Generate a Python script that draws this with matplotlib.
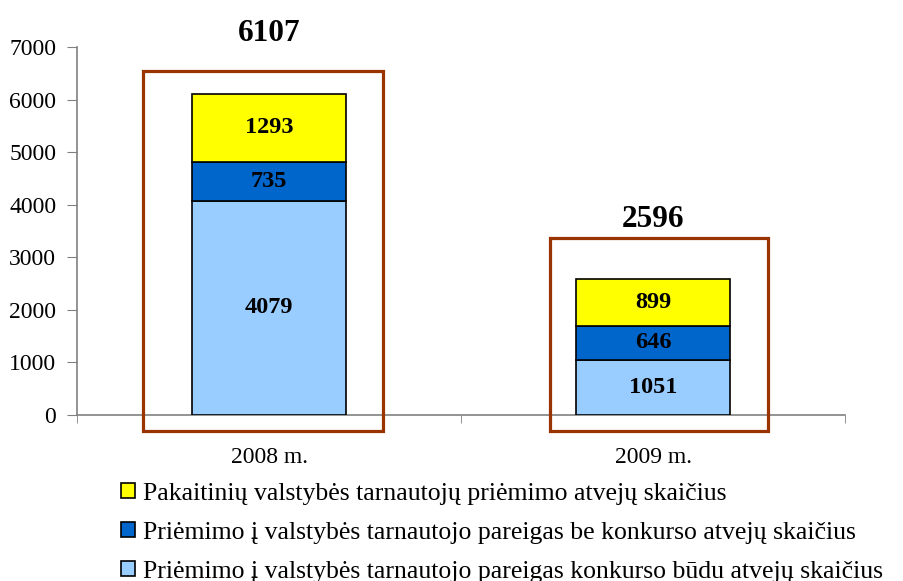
import matplotlib.pyplot as plt
from matplotlib.patches import Patch, Rectangle
import numpy as np

plt.rcParams["font.family"] = ["Liberation Serif", "DejaVu Serif"]

years = ["2008 m.", "2009 m."]
series_names = [
    "Priėmimo į valstybės tarnautojo pareigas konkurso būdu atvejų skaičius",
    "Priėmimo į valstybės tarnautojo pareigas be konkurso atvejų skaičius",
    "Pakaitinių valstybės tarnautojų priėmimo atvejų skaičius",
]
konkurso = [4079, 1051]
be_konkurso = [735, 646]
pakaitiniai = [1293, 899]
colors = ["#99CCFF", "#0066CC", "#FFFF00"]

values = [konkurso, be_konkurso, pakaitiniai]
totals = np.sum(values, axis=0)

fig = plt.figure(figsize=(9.04, 5.81), dpi=100)
ax = fig.add_axes([0.0852, 0.2857, 0.8496, 0.6334])

x = np.arange(len(years))
bottom = np.zeros(len(years))
handles = []
for vals, name, c in zip(values, series_names, colors):
    bars = ax.bar(x, vals, width=0.4, bottom=bottom, color=c,
                  edgecolor="black", linewidth=1.2, zorder=3)
    for b, v in zip(bars, vals):
        ax.text(b.get_x() + b.get_width() / 2, b.get_y() + v / 2, str(v),
                ha="center", va="center", fontsize=17.5, fontweight="bold",
                zorder=4)
    bottom += vals
    handles.append(Patch(facecolor=c, edgecolor="black", linewidth=1.2))

# highlight frames round the bars
box_half = [0.313, 0.284]
box_shift = [-0.016, 0.016]
box_top_pad = [440, 770]
label_off = [27, 13]
box_bottom = -300
for i, t in enumerate(totals):
    cx = x[i] + box_shift[i]
    ax.add_patch(Rectangle((cx - box_half[i], box_bottom), 2 * box_half[i],
                           t + box_top_pad[i] - box_bottom, fill=False,
                           edgecolor="#993300", linewidth=2.3, zorder=5,
                           clip_on=False))
    ax.annotate(str(t), (x[i], t + box_top_pad[i]), xytext=(0, label_off[i]),
                textcoords="offset points", ha="center", va="center",
                fontsize=22.5, fontweight="bold")

ax.set_xlim(-0.5, 1.5)
ax.set_ylim(0, 7000)
ax.set_yticks(range(0, 7001, 1000))
ax.set_xticks(x)
ax.set_xticklabels(years)
ax.set_xticks([-0.5, 0.5, 1.5], minor=True)
ax.tick_params(axis="x", which="major", length=0, pad=23, labelsize=17)
ax.tick_params(axis="x", which="minor", length=6, color="#808080", direction="out")
ax.tick_params(axis="y", length=7, color="#808080", pad=8, labelsize=17)
for s in ["top", "right"]:
    ax.spines[s].set_visible(False)
for s in ["left", "bottom"]:
    ax.spines[s].set_color("#808080")
    ax.spines[s].set_linewidth(1.2)

fig.legend(handles[::-1], series_names[::-1], loc="upper left",
           bbox_to_anchor=(0.134, 0.169), frameon=False, fontsize=18.5,
           handlelength=0.55, handleheight=0.55, handletextpad=0.32,
           labelspacing=0.66, borderpad=0, borderaxespad=0)

fig.savefig("out.png", dpi=100)
